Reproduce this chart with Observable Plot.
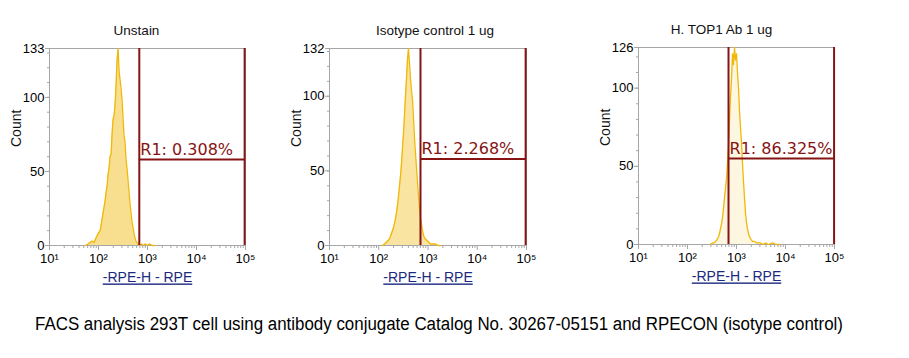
<!DOCTYPE html>
<html><head><meta charset="utf-8">
<script src="https://cdn.jsdelivr.net/npm/d3@7"></script>
<script src="https://cdn.jsdelivr.net/npm/@observablehq/plot@0.6"></script>
<style>
body{margin:0;background:#fff;}
#wrap{position:relative;width:909px;height:358px;overflow:hidden;background:#fff;}
#wrap svg{position:absolute;top:0;overflow:visible;}
#cap{position:absolute;left:35px;top:314px;font-family:"Liberation Sans Narrow","Liberation Sans",sans-serif;font-size:18px;white-space:nowrap;transform-origin:0 0;color:#000;}
</style></head><body><div id="wrap"><div id="cap">FACS analysis 293T cell using antibody conjugate Catalog No. 30267-05151 and RPECON (isotype control)</div></div>
<script>
// ---- data ----
const titles = ["Unstain", "Isotype control 1 ug", "H. TOP1 Ab 1 ug"];
const yMax = [133, 132, 126];
const gateLo = [680, 704, 687];
const gateHi = [96000, 96000, 98000];
const gateY = [58, 58, 55];
const gateLabels = ["R1: 0.308%", "R1: 2.268%", "R1: 86.325%"];
const xTicks = [10, 100, 1000, 10000, 100000];
const xTickLabels = ["10¹", "10²", "10³", "10⁴", "10⁵"];
const xLabel = "-RPE-H - RPE";
const yLabel = "Count";

const int1 = [55,61,67,74,81,89,98,108,116,124,130,136,143,150,157,164,172,181,189,198,208,218,228,239,251,263,275,289,303,317,332,348,365,382,401,420,440,461,483,507,531,557,583,611,641,703,760,820,900,1000,1100,1250,1400];
const cnt1 = [0,1,2,3,2,5,8,10,16,22,26,30,36,40,48,52,60,62,75,85,88,95,108,125,133,118,112,106,98,86,74,70,58,52,44,36,28,22,16,12,8,5,3,2,1,0,1,0,1,0,1,0,0];
const int2 = [120,131,141,151,162,173,186,199,209,219,229,240,252,264,277,290,303,318,334,349,366,384,402,421,441,462,484,508,532,557,584,612,641,672,704,740,773,810,849,910,977,1050,1124,1250,1420,1600,1794];
const cnt2 = [0,1,2,3,4,6,9,12,15,18,22,27,33,40,47,55,65,75,88,100,112,125,132,122,112,104,98,85,72,62,52,42,33,25,18,14,10,7,5,4,3,2,1,1,1,0,0];
const int3 = [290,324,350,373,400,429,450,471,494,518,543,569,596,625,655,687,720,755,791,829,869,911,954,1000,1048,1099,1152,1207,1265,1326,1390,1457,1527,1600,1676,1760,1841,2000,2122,2350,2560,3090,3500,3890,4500,5430,6500,7900];
const cnt3 = [0,1,1,2,3,5,7,10,13,17,23,30,36,42,52,63,80,95,106,122,115,126,118,122,110,100,85,75,65,52,40,30,20,14,10,7,5,3,2,2,1,1,0,1,0,1,0,0];

const series = [[int1, cnt1], [int2, cnt2], [int3, cnt3]];

// ---- layout ----
const layout = [
  {left: 0,   mt: 48, mb: 55, w: 270, titleDx: -11, fillOp: 0.45},
  {left: 280, mt: 48, mb: 55, w: 271, titleDx: 7,   fillOp: 0.38},
  {left: 589, mt: 47, mb: 56, w: 270, titleDx: -15, fillOp: 0.12}
];

const xMinor = [];
for (let e = 1; e < 5; e++) for (let m = 2; m <= 9; m++) xMinor.push(m * Math.pow(10, e));

const axisGray = "#a6a6a6";
const gateColor = "#861414";
const histColor = "#f0b808";
const wrap = document.getElementById("wrap");

series.forEach(([xs, ys], i) => {
  const L = layout[i];
  const data = xs.map((x, k) => ({x, y: ys[k]}));
  const yMinor = d3.range(0, yMax[i], 10);
  const yMajor = [0, 50, 100, yMax[i]];
  const svg = Plot.plot({
    width: L.w, height: 300,
    marginTop: L.mt, marginBottom: L.mb, marginLeft: 49, marginRight: 25,
    style: {fontFamily: "'Liberation Sans', Arial, sans-serif", fontSize: "13px", background: "transparent", overflow: "visible"},
    x: {type: "log", domain: [10, 100000]},
    y: {domain: [0, yMax[i]]},
    marks: [
      Plot.frame({stroke: axisGray}),
      Plot.areaY(data, {x: "x", y: "y", fill: histColor, fillOpacity: L.fillOp}),
      Plot.line(data, {x: "x", y: "y", stroke: histColor, strokeWidth: 1.3}),
      Plot.axisY({ticks: yMinor, tickSize: 2, tickFormat: () => "", stroke: axisGray, label: null}),
      Plot.axisY({ticks: yMajor, tickSize: 4, tickPadding: 1, stroke: axisGray, fill: "#000", label: null}),
      Plot.axisX({ticks: xMinor, tickSize: 3, tickFormat: () => "", stroke: axisGray, label: null}),
      Plot.axisX({ticks: xTicks, tickSize: 5, tickPadding: 3, stroke: axisGray, fill: "#000", label: null,
                  tickFormat: d => xTickLabels[xTicks.indexOf(d)]}),
      Plot.ruleX([gateLo[i], gateHi[i]], {stroke: gateColor, strokeWidth: 2}),
      Plot.ruleY([gateY[i]], {x1: gateLo[i], x2: gateHi[i], stroke: gateColor, strokeWidth: 2}),
      Plot.text([gateLabels[i]], {x: gateLo[i], y: gateY[i], text: d => d, textAnchor: "start", dx: 1, dy: -10,
                 fill: gateColor, fontFamily: "'DejaVu Sans', sans-serif", fontSize: 16}),
      Plot.text([titles[i]], {frameAnchor: "top", text: d => d, dy: -23, dx: L.titleDx, fontSize: 13.5, fill: "#111"}),
      Plot.text([yLabel], {frameAnchor: "left", text: d => d, dx: -33, rotate: -90, fontSize: 14, fill: "#111"}),
      Plot.text([xLabel], {frameAnchor: "bottom", text: d => d, lineAnchor: "top", dy: 27, fontSize: 14, fill: "#1c2a80"})
    ]
  });
  svg.style.left = L.left + "px";
  d3.select(svg).selectAll("text").filter(function() { return this.textContent === xLabel; })
    .style("text-decoration", "underline");
  wrap.appendChild(svg);
});

// fit caption to reference width
const cap = document.getElementById("cap");
const w = cap.getBoundingClientRect().width;
cap.style.transform = `scaleX(${808 / w})`;
</script>
</body></html>
